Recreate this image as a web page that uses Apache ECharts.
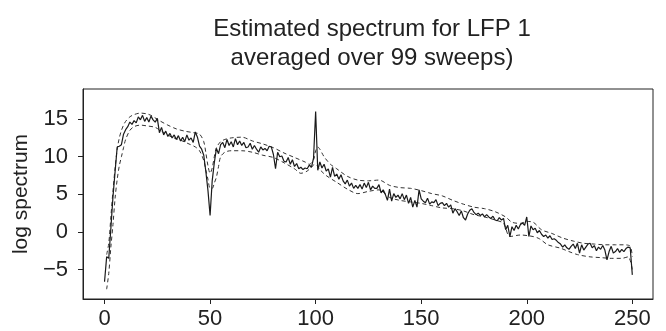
<!DOCTYPE html>
<html>
<head>
<meta charset="utf-8">
<style>
html,body{margin:0;padding:0;background:#fff;}
#chart{width:666px;height:331px;}
</style>
<script src="https://cdn.jsdelivr.net/npm/echarts@6/dist/echarts.min.js"></script>
</head>
<body>
<div id="chart"></div>
<script>
// ---- data ----
const titleText = "Estimated spectrum for LFP 1\naveraged over 99 sweeps)";
const yAxisName = "log spectrum";
const xTickValues = [0, 50, 100, 150, 200, 250];
const yTickValues = [-5, 0, 5, 10, 15];

// solid estimate, one value per frequency starting at 0 (step 1)
const solidStartFreq = 0;
const solidValues = [
  -6.6,-3.3,-3.5,0.5,4.7,8.0,11.3,11.4,11.6,13.0,
  13.6,14.0,14.6,14.3,14.8,14.5,15.3,14.9,15.5,14.7,
  15.2,14.6,15.4,14.9,14.6,15.1,13.2,13.9,12.9,13.4,
  12.7,13.1,12.5,12.9,12.3,12.8,12.1,12.6,12.0,12.9,
  12.2,12.5,11.9,13.3,12.6,11.4,11.0,10.2,8.0,5.5,
  2.2,6.8,9.2,11.1,10.4,11.6,11.9,11.2,12.3,11.5,
  12.0,11.3,12.4,11.6,12.1,11.5,11.9,11.2,11.3,11.8,
  11.0,11.5,11.0,10.6,11.3,10.9,11.1,10.8,11.4,11.3,
  10.3,8.4,10.6,10.0,10.1,9.4,9.3,9.9,9.0,9.6,
  8.7,9.1,8.4,8.6,8.3,8.5,8.4,8.9,8.6,9.8,
  16.0,8.2,9.3,8.5,9.0,8.1,8.4,7.3,8.6,7.4,
  7.7,7.0,7.6,6.8,6.4,6.9,6.1,6.5,5.8,6.2,
  5.8,6.3,5.7,6.5,5.9,6.6,5.6,6.1,5.8,5.8,
  6.3,5.2,5.6,5.0,4.2,5.7,4.1,5.1,4.6,4.9,
  4.4,5.1,4.3,4.9,3.8,4.6,3.3,4.2,3.3,5.6,
  4.4,4.1,3.9,4.5,3.7,4.0,3.9,4.3,3.5,3.8,
  3.9,3.5,3.8,3.3,3.6,2.5,3.1,2.7,2.2,2.8,
  1.9,1.6,2.4,2.9,3.1,2.6,2.3,2.5,2.2,2.4,
  2.0,2.3,2.0,1.8,2.1,1.6,1.5,1.9,1.6,1.8,
  0.3,0.9,-0.6,0.7,0.2,0.9,0.4,1.0,1.2,0.9,
  2.0,-0.6,0.8,0.3,0.5,-0.1,0.2,-0.3,-0.6,-0.4,
  -0.8,-0.5,-1.0,-0.9,-1.1,-1.4,-1.6,-2.0,-1.7,-2.1,
  -2.3,-1.9,-1.6,-2.2,-1.5,-2.8,-1.7,-2.4,-2.0,-1.6,
  -1.5,-2.1,-1.8,-2.5,-2.0,-2.3,-1.8,-2.4,-3.7,-2.6,
  -1.9,-2.8,-2.6,-2.2,-2.7,-2.3,-2.6,-2.2,-2.0,-2.1,
  -5.7
];

// upper confidence bound (dashed)
const upperFreq = [1,2,3,4,5,6,7,8,9,10,12,14,17,20,22,26,30,34,38,42,45,47,48,49,50,51,52,53,55,57,60,65,70,75,80,85,90,95,97,99,100,101,102,104,107,110,115,120,125,130,135,140,145,150,155,160,165,170,175,180,185,190,193,197,200,203,207,212,217,222,227,232,237,242,246,249,250];
const upperVals = [-3.0,-1.5,2.0,5.5,8.5,11.0,12.5,13.5,14.2,14.7,15.3,15.6,15.8,15.7,15.5,14.8,14.2,13.7,13.4,13.2,13.0,12.0,10.5,8.8,7.8,8.5,10.0,11.2,12.0,12.3,12.5,12.6,12.1,11.7,11.2,10.5,9.9,9.3,9.0,9.6,10.8,11.3,11.0,10.0,9.0,8.4,7.4,6.9,6.8,6.9,6.2,5.9,5.8,5.5,5.1,4.8,4.2,3.7,3.3,3.1,2.7,2.0,1.3,1.15,1.4,1.3,0.3,-0.2,-0.8,-1.2,-1.5,-1.6,-1.7,-1.7,-1.7,-1.9,-3.3];

// lower confidence bound (dashed)
const lowerFreq = [1,2,3,4,5,6,7,8,9,10,12,14,17,20,24,28,32,36,40,43,45,47,48,49,50,51,52,53,54,55,57,60,65,70,75,80,85,90,93,96,99,100,102,105,110,115,120,125,130,135,140,145,150,155,160,165,170,175,180,185,189,192,197,203,206,210,216,220,224,230,235,240,245,248,250];
const lowerVals = [-7.6,-5.5,-2.0,1.0,4.5,7.0,8.8,10.0,11.2,12.3,13.5,14.0,14.2,14.1,13.9,13.2,12.6,12.2,11.7,11.3,10.8,9.5,8.2,7.0,5.8,5.8,6.5,7.3,8.7,10.0,10.6,10.8,10.8,10.6,10.2,9.9,9.2,8.4,7.8,8.1,8.9,9.0,8.3,7.5,6.6,5.7,5.1,5.4,5.6,4.6,4.2,4.0,3.8,3.5,3.2,3.1,2.8,2.3,2.0,1.6,1.15,-0.6,-0.4,-0.6,-0.9,-1.7,-2.15,-2.6,-3.0,-3.3,-3.4,-3.5,-3.5,-3.3,-5.0];

// ---- build ----
const solidData = solidValues.map((v, i) => [solidStartFreq + i, v]);
const upperData = upperFreq.map((f, i) => [f, upperVals[i]]);
const lowerData = lowerFreq.map((f, i) => [f, lowerVals[i]]);

const FONT = '"Liberation Sans", Arial, Helvetica, sans-serif';
const chart = echarts.init(document.getElementById('chart'), null, {renderer: 'canvas'});
chart.setOption({
  animation: false,
  backgroundColor: '#ffffff',
  title: {
    text: titleText,
    left: 367,
    top: 10,
    textAlign: 'center',
    textStyle: {fontFamily: FONT, fontSize: 24, fontWeight: 'normal', color: '#222', lineHeight: 29}
  },
  grid: {
    left: 83, right: 13, top: 89, bottom: 32,
    show: true, borderColor: '#222', borderWidth: 1, backgroundColor: 'transparent'
  },
  xAxis: {
    type: 'value', min: -10.2, max: 259.8,
    axisLine: {show: true, onZero: false, lineStyle: {color: '#222', width: 1}},
    splitLine: {show: false},
    axisTick: {show: true, inside: false, length: 5, customValues: xTickValues, lineStyle: {color: '#222', width: 1}},
    axisLabel: {customValues: xTickValues, margin: 9, fontFamily: FONT, fontSize: 22, color: '#222'}
  },
  yAxis: {
    type: 'value', min: -8.9, max: 19.0,
    name: yAxisName, nameLocation: 'middle', nameGap: 46,
    nameTextStyle: {fontFamily: FONT, fontSize: 21, color: '#222'},
    axisLine: {show: true, onZero: false, lineStyle: {color: '#222', width: 1}},
    splitLine: {show: false},
    axisTick: {show: true, inside: false, length: 5, customValues: yTickValues, lineStyle: {color: '#222', width: 1}},
    axisLabel: {customValues: yTickValues, margin: 15, fontFamily: FONT, fontSize: 22, color: '#222',
      formatter: v => String(v).replace('-', '\u2212')}
  },
  series: [
    {type: 'line', data: upperData, symbol: 'none', smooth: 0.3,
     lineStyle: {color: '#333', width: 1, type: [4, 3]}},
    {type: 'line', data: lowerData, symbol: 'none', smooth: 0.3,
     lineStyle: {color: '#333', width: 1, type: [4, 3]}},
    {type: 'line', data: solidData, symbol: 'none',
     lineStyle: {color: '#1a1a1a', width: 1.2}}
  ]
});
</script>
</body>
</html>
